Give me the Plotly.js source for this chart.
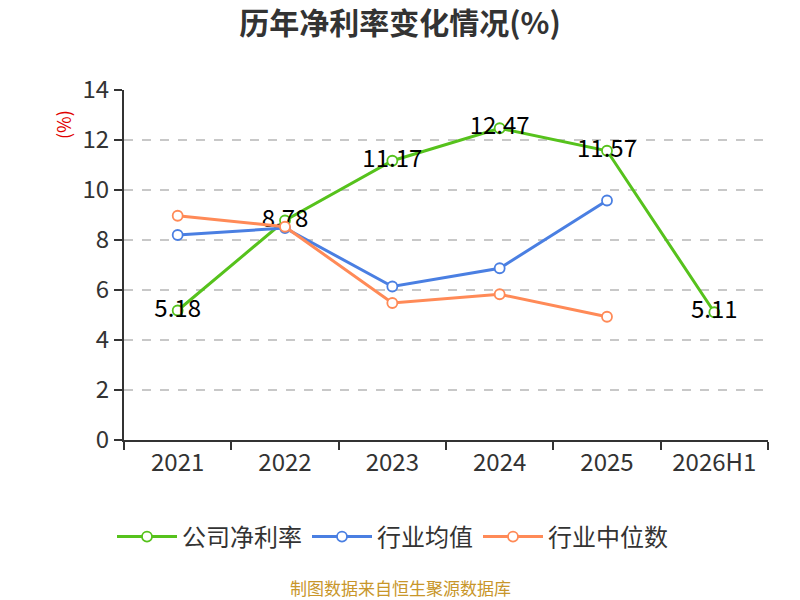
<!DOCTYPE html>
<html>
<head>
<meta charset="utf-8">
<script src="https://cdn.plot.ly/plotly-3.0.1.min.js"></script>
<style>
  html, body { margin: 0; padding: 0; background: #fff; }
  #chart { width: 800px; height: 600px; }
</style>
</head>
<body>
<div id="chart"></div>
<script>
var years = ['2021', '2022', '2023', '2024', '2025', '2026H1'];
var company = [5.18, 8.78, 11.17, 12.47, 11.57, 5.11];
var industryAvg = [8.20, 8.48, 6.14, 6.87, 9.58];
var industryMedian = [8.97, 8.53, 5.48, 5.83, 4.93];

var font = '"Noto Sans CJK SC", "Noto Sans", sans-serif';

function series(name, y, color, labels) {
    var t = {
        type: 'scatter',
        mode: labels ? 'lines+markers+text' : 'lines+markers',
        name: name,
        x: years.slice(0, y.length),
        y: y,
        line: {color: color, width: 3},
        marker: {symbol: 'circle', size: 10, color: '#fff', line: {color: color, width: 1.8}},
        cliponaxis: false,
        hoverinfo: 'x+y'
    };
    if (labels) {
        t.text = y.map(function (v) { return v.toFixed(2); });
        t.textposition = 'middle center';
        t.textfont = {family: font, size: 24, color: '#000'};
    }
    return t;
}

var data = [
    series('公司净利率', company, '#56c21c', true),
    series('行业均值', industryAvg, '#4a7fe2', false),
    series('行业中位数', industryMedian, '#ff8a57', false)
];

var layout = {
    width: 800,
    height: 600,
    margin: {l: 124, r: 32, t: 90, b: 160, pad: 0},
    paper_bgcolor: '#fff',
    plot_bgcolor: '#fff',
    font: {family: font, color: '#333'},
    title: {
        text: '<b>历年净利率变化情况(%)</b>',
        font: {family: font, size: 30, color: '#333'},
        x: 0.5, xanchor: 'center',
        y: 1 - 23 / 600, yref: 'container', yanchor: 'middle'
    },
    xaxis: {
        type: 'category',
        range: [-0.5, 5.5],
        showgrid: false,
        zeroline: false,
        showline: true,
        linecolor: '#333',
        linewidth: 2,
        ticks: 'outside',
        tickson: 'boundaries',
        ticklen: 8,
        tickwidth: 2,
        tickcolor: '#333',
        tickfont: {family: font, size: 24, color: '#333'},
        fixedrange: true
    },
    yaxis: {
        range: [0, 14],
        dtick: 2,
        showgrid: true,
        gridcolor: '#c8c8c8',
        griddash: 'dash',
        gridwidth: 1.3,
        zeroline: false,
        showline: true,
        linecolor: '#333',
        linewidth: 2,
        ticks: 'outside',
        ticklen: 8,
        tickwidth: 2,
        tickcolor: '#333',
        tickfont: {family: font, size: 24, color: '#333'},
        fixedrange: true
    },
    showlegend: true,
    legend: {
        orientation: 'h',
        x: (112 - 124) / 644, xanchor: 'left',
        y: (440 - 537) / 350, yanchor: 'middle',
        font: {family: font, size: 24, color: '#333'},
        itemwidth: 60,
        traceorder: 'normal'
    },
    annotations: [
        {
            text: '(%)',
            xref: 'paper', yref: 'paper',
            x: (63 - 124) / 644, y: (440 - 125) / 350,
            xanchor: 'center', yanchor: 'middle',
            textangle: -90,
            showarrow: false,
            font: {family: font, size: 18, color: '#e00000'}
        },
        {
            text: '制图数据来自恒生聚源数据库',
            xref: 'paper', yref: 'paper',
            x: (400 - 124) / 644, y: (440 - 587) / 350,
            xanchor: 'center', yanchor: 'middle',
            showarrow: false,
            font: {family: font, size: 17, color: '#c8962a'}
        }
    ]
};

Plotly.newPlot('chart', data, layout, {displayModeBar: false, staticPlot: true});
</script>
</body>
</html>
